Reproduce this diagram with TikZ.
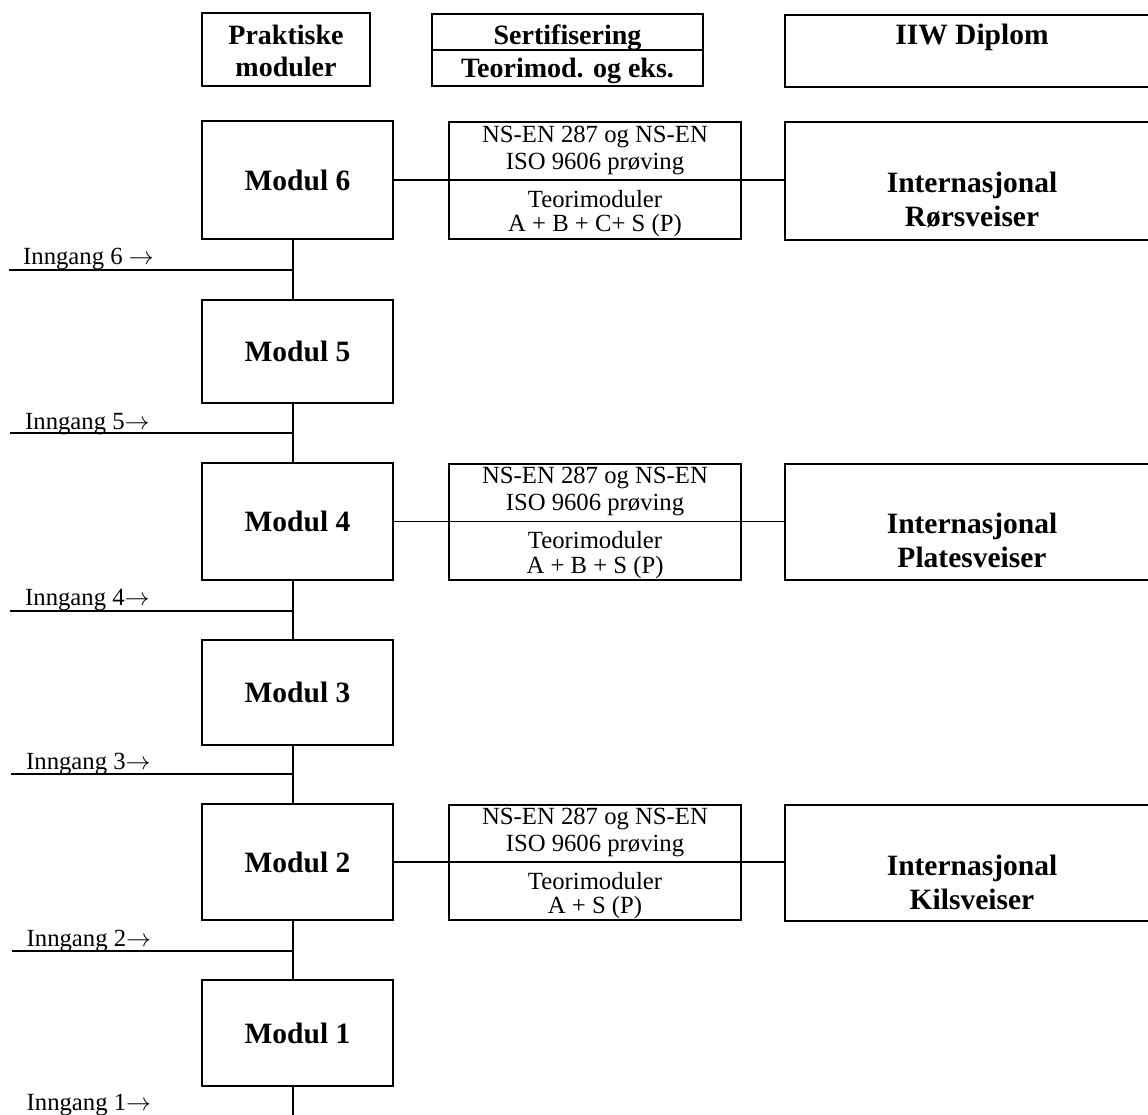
\documentclass[tikz,border=0pt]{standalone}
\usepackage{fontspec}
\setmainfont{Liberation Serif}
\begin{document}
\begin{tikzpicture}[x=1pt,y=-1pt,
  box/.style={draw, line width=1.1pt, inner sep=0pt, rectangle},
  conn/.style={line width=1.1pt},
  reg/.style={font=\fontsize{24.7}{28}\selectfont, inner sep=0pt, anchor=base},
  inn/.style={font=\fontsize{24.7}{28}\selectfont, inner sep=0pt, anchor=base west},
  bld/.style={font=\fontsize{29.5}{34}\selectfont\bfseries, inner sep=0pt},
  bldb/.style={font=\fontsize{29.5}{34}\selectfont\bfseries, inner sep=0pt, anchor=base},
  hdr/.style={font=\fontsize{28}{32}\selectfont\bfseries, inner sep=0pt, anchor=base},
  modbox/.style={box, bld, minimum width=191pt},
  certbox/.style={box, minimum width=292pt},
  intbox/.style={box, minimum width=375pt},
]
\useasboundingbox (0,0) rectangle (1148,1115);
\clip (0,0) rectangle (1148,1115);

% ---------- header row ----------
\node[box, minimum width=168pt, minimum height=73pt] (hp) at (286,49.5) {};
\node[hdr] (hpt1) at (286,44.5) {Praktiske};
\node[hdr] (hpt2) at (286,77) {moduler};

\node[box, minimum width=271pt, minimum height=72pt] (hs) at (567.5,50) {};
\draw[conn] (hs.west) -- (hs.east);
\node[hdr] (hst1) at (567.5,45) {Sertifisering};
\node[hdr] (hst2) at (567.5,78) {Teorimod. og eks.};

\node[box, minimum width=375pt, minimum height=72pt] (hi) at (972.5,51) {};
\node[bldb] (hit) at (972,45) {IIW Diplom};

% ---------- module boxes ----------
\node[modbox, minimum height=118pt] (m6) at (297.5,180) {Modul 6};
\node[modbox, minimum height=103pt] (m5) at (297.5,351.5) {Modul 5};
\node[modbox, minimum height=117pt] (m4) at (297.5,521.5) {Modul 4};
\node[modbox, minimum height=105pt] (m3) at (297.5,692.5) {Modul 3};
\node[modbox, minimum height=116pt] (m2) at (297.5,862) {Modul 2};
\node[modbox, minimum height=106pt] (m1) at (297.5,1033) {Modul 1};

% ---------- certification boxes ----------
\node[certbox, minimum height=117pt] (c6) at (595,180.5) {};
\node[certbox, minimum height=116pt] (c4) at (595,522) {};
\node[certbox, minimum height=115pt] (c2) at (595,862.5) {};

\node[reg] (c6a) at (595,142.5) {NS-EN 287 og NS-EN};
\node[reg] (c6b) at (595,169.5) {ISO 9606 prøving};
\node[reg] (c6c) at (595,207.5) {Teorimoduler};
\node[reg] (c6d) at (595,232) {A + B + C+ S (P)};

\node[reg] (c4a) at (595,483.5) {NS-EN 287 og NS-EN};
\node[reg] (c4b) at (595,510.5) {ISO 9606 prøving};
\node[reg] (c4c) at (595,548.5) {Teorimoduler};
\node[reg] (c4d) at (595,573) {A + B + S (P)};

\node[reg] (c2a) at (595,824) {NS-EN 287 og NS-EN};
\node[reg] (c2b) at (595,851) {ISO 9606 prøving};
\node[reg] (c2c) at (595,889) {Teorimoduler};
\node[reg] (c2d) at (595,913.5) {A + S (P)};

% ---------- diploma boxes ----------
\node[intbox, minimum height=118pt] (i6) at (972.5,181) {};
\node[intbox, minimum height=116pt] (i4) at (972.5,522) {};
\node[intbox, minimum height=116pt] (i2) at (972.5,863) {};

\node[bldb] (i6a) at (972,193) {Internasjonal};
\node[bldb] (i6b) at (972,227) {Rørsveiser};
\node[bldb] (i4a) at (972,533) {Internasjonal};
\node[bldb] (i4b) at (972,567) {Platesveiser};
\node[bldb] (i2a) at (972,875) {Internasjonal};
\node[bldb] (i2b) at (972,909) {Kilsveiser};

% ---------- horizontal connectors (also dividers of the cert boxes) ----------
\draw[conn] (m6.east) -- (m6.east -| i6.west);
\draw[conn] (m4.east) -- (m4.east -| i4.west);
\draw[conn] (m2.east) -- (m2.east -| i2.west);

% ---------- spine and entries ----------
\coordinate (j6) at (293,270);
\coordinate (j5) at (293,433);
\coordinate (j4) at (293,611);
\coordinate (j3) at (293,774);
\coordinate (j2) at (293,951);
\coordinate (jb) at (293,1120);
\coordinate (e6) at (9,270);
\coordinate (e5) at (10,433);
\coordinate (e4) at (10,611);
\coordinate (e3) at (11,774);
\coordinate (e2) at (12,951);

\draw[conn] (m6.south -| j6) -- (m5.north -| j6);
\draw[conn] (m5.south -| j5) -- (m4.north -| j5);
\draw[conn] (m4.south -| j4) -- (m3.north -| j4);
\draw[conn] (m3.south -| j3) -- (m2.north -| j3);
\draw[conn] (m2.south -| j2) -- (m1.north -| j2);
\draw[conn] (m1.south -| jb) -- (jb);

\draw[conn] (e6) -- (j6);
\draw[conn] (e5) -- (j5);
\draw[conn] (e4) -- (j4);
\draw[conn] (e3) -- (j3);
\draw[conn] (e2) -- (j2);

\node[inn] (t6) at (23,265) {Inngang 6 $\rightarrow$};
\node[inn] (t5) at (25,429.5) {Inngang 5$\rightarrow$};
\node[inn] (t4) at (25,605) {Inngang 4$\rightarrow$};
\node[inn] (t3) at (26,769) {Inngang 3$\rightarrow$};
\node[inn] (t2) at (26.5,946) {Inngang 2$\rightarrow$};
\node[inn] (t1) at (26.5,1110) {Inngang 1$\rightarrow$};
\end{tikzpicture}
\end{document}
